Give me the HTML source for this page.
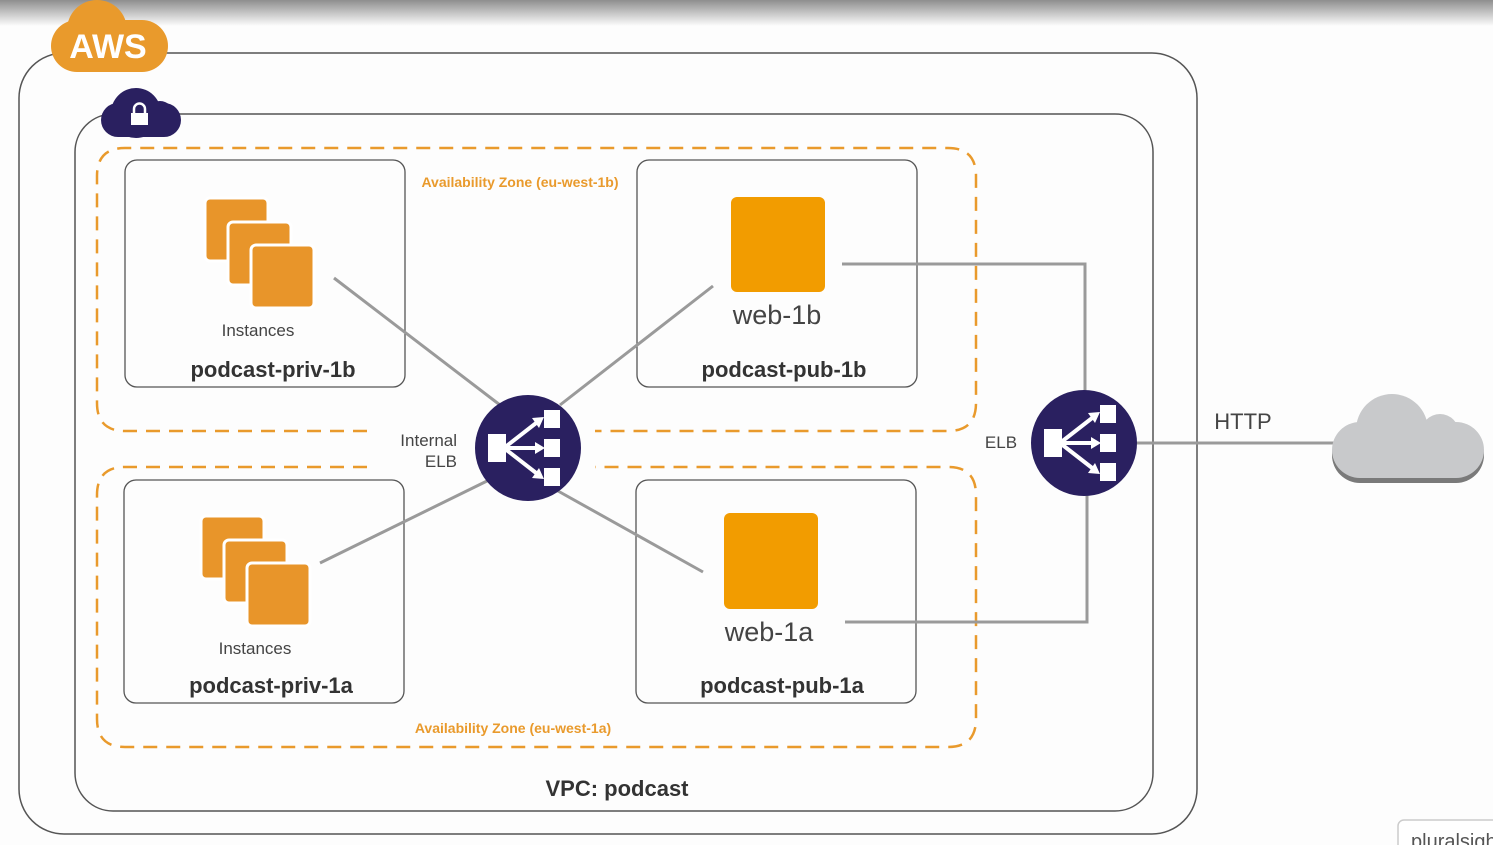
<!DOCTYPE html>
<html><head><meta charset="utf-8"><style>
html,body{margin:0;padding:0;background:#fdfdfd;width:1493px;height:845px;overflow:hidden}
svg{display:block}
text{font-family:"Liberation Sans",sans-serif}
</style></head><body>
<svg width="1493" height="845" viewBox="0 0 1493 845" xmlns="http://www.w3.org/2000/svg">
<defs>
<linearGradient id="top" x1="0" y1="0" x2="0" y2="1">
<stop offset="0" stop-color="#8e8e8e"/><stop offset="1" stop-color="#fdfdfd"/></linearGradient>
<g id="inst">
<rect x="0" y="0" width="63" height="63" rx="5" fill="#e8952a" stroke="#fff" stroke-width="3"/>
<rect x="23" y="24" width="63" height="63" rx="5" fill="#e8952a" stroke="#fff" stroke-width="3"/>
<rect x="46" y="47" width="63" height="63" rx="5" fill="#e8952a" stroke="#fff" stroke-width="3"/>
</g>
<g id="elb">
<ellipse cx="0" cy="0" rx="53" ry="53" fill="#2a2060"/>
<rect x="-40" y="-14" width="18" height="28" fill="#fff"/>
<rect x="16" y="-38" width="16" height="18" fill="#fff"/>
<rect x="16" y="-9" width="16" height="18" fill="#fff"/>
<rect x="16" y="20" width="16" height="18" fill="#fff"/>
<g stroke="#fff" stroke-width="4" fill="none">
<line x1="-24" y1="0" x2="12" y2="-28"/><line x1="-24" y1="0" x2="12" y2="0"/><line x1="-24" y1="0" x2="12" y2="28"/>
</g>
<g fill="#fff"><polygon points="16,-31 4,-30 11,-20"/><polygon points="17,0 7,-6 7,6"/><polygon points="16,31 4,30 11,20"/></g>
</g>
</defs>
<rect x="0" y="0" width="1493" height="26" fill="url(#top)"/>

<!-- outer AWS box -->
<rect x="19" y="53" width="1178" height="781" rx="45" fill="none" stroke="#555" stroke-width="1.5"/>
<!-- VPC -->
<rect x="75" y="114" width="1078" height="697" rx="38" fill="none" stroke="#555" stroke-width="1.5"/>

<!-- AWS cloud -->
<g fill="#e99a2c">
<circle cx="97" cy="30" r="30"/><circle cx="138" cy="42" r="18"/>
<rect x="51" y="20" width="117" height="52" rx="26"/>
</g>
<text x="108" y="58" font-size="34" font-weight="bold" fill="#fff" text-anchor="middle">AWS</text>
<!-- lock cloud -->
<g fill="#2a2060">
<circle cx="136" cy="113" r="25"/><circle cx="160" cy="115" r="14"/>
<rect x="101" y="103" width="80" height="34" rx="17"/>
</g>
<rect x="131" y="113" width="17" height="12" fill="#fff"/>
<path d="M134 114 v-5 a5.5 5.5 0 0 1 11 0 v5" fill="none" stroke="#fff" stroke-width="2.5"/>

<!-- AZ dashed -->
<g fill="none" stroke="#e99a2c" stroke-width="2.5" stroke-dasharray="14 9">
<path d="M367 431 H125 Q97 431 97 403 V176 Q97 148 125 148 H948 Q976 148 976 176 V403 Q976 431 948 431 H595"/>
<path d="M367 467 H125 Q97 467 97 495 V719 Q97 747 125 747 H948 Q976 747 976 719 V495 Q976 467 948 467 H595"/>
</g>
<text x="520" y="187" font-size="14" font-weight="bold" fill="#e99a2c" text-anchor="middle">Availability Zone (eu-west-1b)</text>
<text x="513" y="733" font-size="14" font-weight="bold" fill="#e99a2c" text-anchor="middle">Availability Zone (eu-west-1a)</text>

<!-- subnet boxes -->
<g fill="none" stroke="#555" stroke-width="1.3">
<rect x="125" y="160" width="280" height="227" rx="12"/>
<rect x="637" y="160" width="280" height="227" rx="12"/>
<rect x="124" y="480" width="280" height="223" rx="12"/>
<rect x="636" y="480" width="280" height="223" rx="12"/>
</g>

<!-- connectors -->
<g stroke="#9a9a9a" stroke-width="3" fill="none">
<line x1="334" y1="278" x2="500" y2="405"/>
<line x1="713" y1="286" x2="560" y2="405"/>
<line x1="320" y1="563" x2="487" y2="481"/>
<line x1="558" y1="491" x2="703" y2="572"/>
<path d="M842 264 H1085 V392"/>
<path d="M845 622 H1087 V495"/>
<line x1="1137" y1="443" x2="1335" y2="443"/>
</g>

<use href="#inst" x="205" y="198"/>
<use href="#inst" x="201" y="516"/>
<rect x="731" y="197" width="94" height="95" rx="6" fill="#f29c00"/>
<rect x="724" y="513" width="94" height="96" rx="6" fill="#f29c00"/>

<text x="258" y="336" font-size="17" fill="#444" text-anchor="middle">Instances</text>
<text x="255" y="654" font-size="17" fill="#444" text-anchor="middle">Instances</text>
<text x="273" y="377" font-size="22" font-weight="bold" fill="#333" text-anchor="middle">podcast-priv-1b</text>
<text x="271" y="693" font-size="22" font-weight="bold" fill="#333" text-anchor="middle">podcast-priv-1a</text>
<text x="784" y="377" font-size="22" font-weight="bold" fill="#333" text-anchor="middle">podcast-pub-1b</text>
<text x="782" y="693" font-size="22" font-weight="bold" fill="#333" text-anchor="middle">podcast-pub-1a</text>
<text x="777" y="324" font-size="27" fill="#444" text-anchor="middle">web-1b</text>
<text x="769" y="641" font-size="27" fill="#444" text-anchor="middle">web-1a</text>

<use href="#elb" x="528" y="448"/>
<use href="#elb" x="1084" y="443"/>
<text x="457" y="446" font-size="17" fill="#444" text-anchor="end">Internal</text>
<text x="457" y="467" font-size="17" fill="#444" text-anchor="end">ELB</text>
<text x="1001" y="448" font-size="17" fill="#444" text-anchor="middle">ELB</text>
<text x="1243" y="429" font-size="22" fill="#444" text-anchor="middle">HTTP</text>
<text x="617" y="796" font-size="22" font-weight="bold" fill="#333" text-anchor="middle">VPC: podcast</text>

<!-- internet cloud -->
<g fill="#7a7a7a" transform="translate(0,5)">
<circle cx="1392" cy="430" r="36"/><circle cx="1440" cy="433" r="19"/>
<rect x="1332" y="422" width="152" height="56" rx="28"/>
</g>
<g fill="#c8c9cb">
<circle cx="1392" cy="430" r="36"/><circle cx="1440" cy="433" r="19"/>
<rect x="1332" y="422" width="152" height="56" rx="28"/>
</g>

<!-- pluralsight tab -->
<rect x="1398" y="820" width="110" height="40" rx="6" fill="#fff" stroke="#ccc" stroke-width="1.5"/>
<text x="1411" y="848" font-size="20" fill="#555">pluralsight</text>
</svg>
</body></html>
